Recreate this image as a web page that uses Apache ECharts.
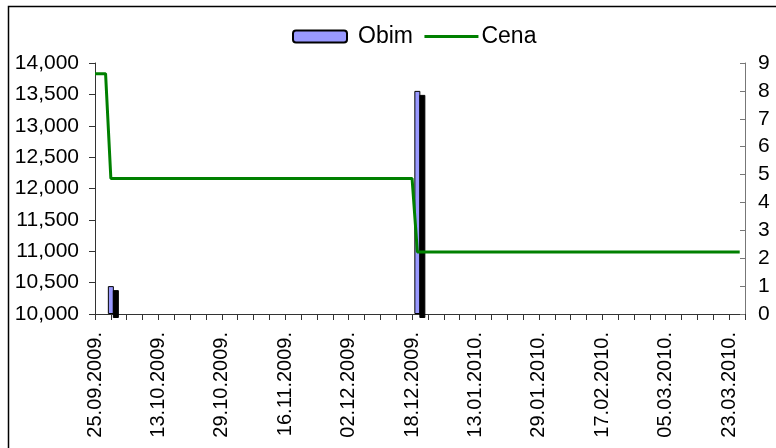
<!DOCTYPE html>
<html>
<head>
<meta charset="utf-8">
<script src="https://cdn.jsdelivr.net/npm/echarts@6/dist/echarts.min.js"></script>
<style>
  html, body { margin: 0; padding: 0; background: #fff; }
  #main { width: 776px; height: 448px; }
</style>
</head>
<body>
<div id="main"></div>
<script>
// trading days on the category axis
var dates = [
  '25.09.2009.', '28.09.2009.', '29.09.2009.', '30.09.2009.',
  '01.10.2009.', '02.10.2009.', '05.10.2009.', '06.10.2009.', '07.10.2009.', '08.10.2009.', '09.10.2009.', '12.10.2009.', '13.10.2009.',
  '14.10.2009.', '15.10.2009.', '16.10.2009.', '19.10.2009.', '20.10.2009.', '21.10.2009.', '22.10.2009.', '23.10.2009.', '26.10.2009.', '27.10.2009.', '28.10.2009.', '29.10.2009.',
  '30.10.2009.', '02.11.2009.', '03.11.2009.', '04.11.2009.', '05.11.2009.', '06.11.2009.', '09.11.2009.', '10.11.2009.', '11.11.2009.', '12.11.2009.', '13.11.2009.', '16.11.2009.',
  '17.11.2009.', '18.11.2009.', '19.11.2009.', '20.11.2009.', '23.11.2009.', '24.11.2009.', '25.11.2009.', '26.11.2009.', '27.11.2009.', '30.11.2009.', '01.12.2009.', '02.12.2009.',
  '03.12.2009.', '04.12.2009.', '07.12.2009.', '08.12.2009.', '09.12.2009.', '10.12.2009.', '11.12.2009.', '14.12.2009.', '15.12.2009.', '16.12.2009.', '17.12.2009.', '18.12.2009.',
  '21.12.2009.', '22.12.2009.', '23.12.2009.', '24.12.2009.', '28.12.2009.', '29.12.2009.', '30.12.2009.', '05.01.2010.', '06.01.2010.', '11.01.2010.', '12.01.2010.', '13.01.2010.',
  '14.01.2010.', '15.01.2010.', '18.01.2010.', '19.01.2010.', '20.01.2010.', '21.01.2010.', '22.01.2010.', '25.01.2010.', '26.01.2010.', '27.01.2010.', '28.01.2010.', '29.01.2010.',
  '01.02.2010.', '02.02.2010.', '03.02.2010.', '04.02.2010.', '05.02.2010.', '08.02.2010.', '09.02.2010.', '10.02.2010.', '11.02.2010.', '12.02.2010.', '16.02.2010.', '17.02.2010.',
  '18.02.2010.', '19.02.2010.', '22.02.2010.', '23.02.2010.', '24.02.2010.', '25.02.2010.', '26.02.2010.', '01.03.2010.', '02.03.2010.', '03.03.2010.', '04.03.2010.', '05.03.2010.',
  '08.03.2010.', '09.03.2010.', '10.03.2010.', '11.03.2010.', '12.03.2010.', '15.03.2010.', '16.03.2010.', '17.03.2010.', '18.03.2010.', '19.03.2010.', '22.03.2010.', '23.03.2010.',
  '24.03.2010.', '25.03.2010.', '26.03.2010.'
];

// Obim (volume) - only days with trades
var obimDays = ['30.09.2009.', '21.12.2009.'];
var obimValues = [1, 8];

// Cena (price) - points where the price level changes
var cenaDays = ['25.09.2009.', '29.09.2009.', '30.09.2009.', '18.12.2009.', '21.12.2009.', '25.03.2010.'];
var cenaValues = [13830, 13830, 12160, 12160, 10990, 10990];

var fontFamily = '"Liberation Sans", Arial, sans-serif';

var chart = echarts.init(document.getElementById('main'));
chart.setOption({
  animation: false,
  textStyle: { fontFamily: fontFamily, color: '#000' },
  graphic: [{
    type: 'rect',
    shape: { x: 8.5, y: 6.5, width: 900, height: 600 },
    style: { fill: 'none', stroke: '#000', lineWidth: 1.5 },
    silent: true,
    z: -10
  }],
  legend: {
    left: 287,
    top: 20,
    itemWidth: 54,
    itemHeight: 12,
    itemGap: 10,
    textStyle: { fontSize: 23, color: '#000', fontFamily: fontFamily },
    data: [
      { name: 'Obim', textStyle: { padding: [0, 0, 0, 6] } },
      {
        name: 'Cena',
        itemStyle: { opacity: 0 },
        lineStyle: { width: 3, color: '#008000' },
        textStyle: { padding: [0, 0, 0, -2] }
      }
    ]
  },
  grid: { left: 95, right: 31, top: 63, bottom: 134, containLabel: false },
  xAxis: {
    type: 'category',
    data: dates,
    boundaryGap: false,
    axisLine: { lineStyle: { color: '#333', width: 1 } },
    axisTick: { interval: 2, length: 6, lineStyle: { color: '#333' } },
    axisLabel: {
      interval: 11,
      rotate: 90,
      margin: 18,
      fontSize: 20,
      color: '#000',
      fontFamily: fontFamily
    },
    splitLine: { show: false }
  },
  yAxis: [{
    type: 'value',
    min: 10000,
    max: 14000,
    interval: 500,
    position: 'left',
    axisLine: { show: true, lineStyle: { color: '#333' } },
    axisTick: { show: true, length: 6, lineStyle: { color: '#333' } },
    axisLabel: {
      margin: 16,
      fontSize: 21,
      color: '#000',
      fontFamily: fontFamily,
      formatter: function (v) { return v.toLocaleString('en-US'); }
    },
    splitLine: { show: false }
  }, {
    type: 'value',
    min: 0,
    max: 9,
    interval: 1,
    position: 'right',
    axisLine: { show: true, lineStyle: { color: '#777' } },
    axisTick: { show: true, inside: true, length: 5, lineStyle: { color: '#777' } },
    axisLabel: { margin: 13, fontSize: 21, color: '#000', fontFamily: fontFamily },
    splitLine: { show: false }
  }],
  series: [{
    name: 'Obim',
    type: 'bar',
    yAxisIndex: 1,
    barWidth: 6,
    data: obimDays.map(function (d, i) { return [d, obimValues[i]]; }),
    itemStyle: {
      color: '#9999ff',
      borderColor: '#000',
      borderWidth: 1,
      shadowColor: '#000',
      shadowBlur: 0,
      shadowOffsetX: 5,
      shadowOffsetY: 4
    }
  }, {
    name: 'Cena',
    type: 'line',
    yAxisIndex: 0,
    symbol: 'none',
    data: cenaDays.map(function (d, i) { return [d, cenaValues[i]]; }),
    lineStyle: { color: '#008000', width: 3 },
    itemStyle: { color: '#008000' }
  }]
});
</script>
</body>
</html>
